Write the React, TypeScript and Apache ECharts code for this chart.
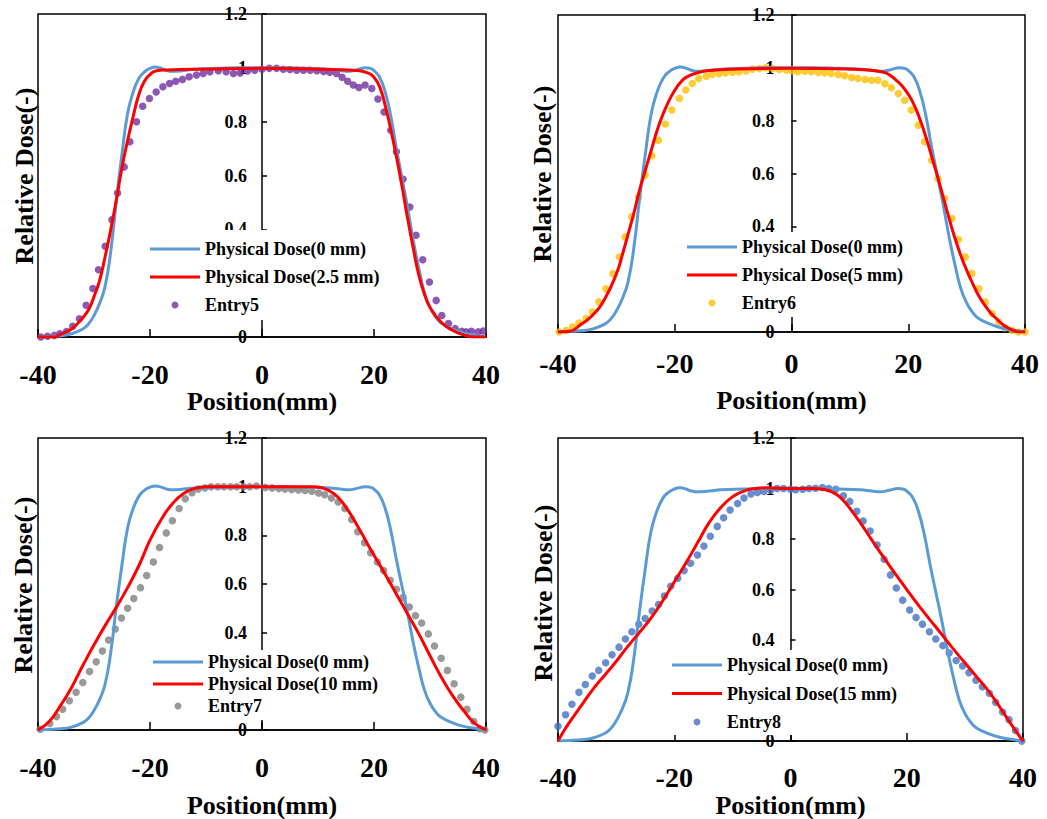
import React, { useEffect, useRef } from 'react';
import * as echarts from 'echarts';

const FONT = '"Liberation Serif", "Times New Roman", Times, serif';
const BLUE = '#5B9BD5';
const RED = '#FF0000';

// Physical Dose (0 mm) - shared reference curve
const blueX = [-40, -36, -34, -32, -31, -30, -29, -28, -27, -26, -25, -24, -23, -22, -21, -20, -19, -18, -17, -16, -14, -12, -8, -4, 0, 4, 8, 12, 14, 15.5, 17, 18.5, 19.5, 20, 21, 22, 23, 24, 25, 26, 27, 28, 29, 30, 31, 32, 34, 36, 38, 40];
const blueY = [0, 0.005, 0.012, 0.03, 0.048, 0.08, 0.125, 0.19, 0.32, 0.51, 0.68, 0.83, 0.91, 0.96, 0.985, 0.998, 1.003, 0.998, 0.99, 0.987, 0.99, 0.995, 0.998, 1, 1, 1, 0.998, 0.995, 0.99, 0.987, 0.993, 1.0, 0.997, 0.99, 0.965, 0.91, 0.82, 0.7, 0.59, 0.48, 0.36, 0.255, 0.165, 0.11, 0.075, 0.052, 0.03, 0.015, 0.007, 0];

// Panel 1
const red1X = [-40, -37, -36, -34, -32.5, -31, -30, -29, -28, -27, -26, -25, -24, -23, -22, -21, -20, -19, -17, -10, 0, 10, 17, 19, 20, 21, 22, 23, 24, 25, 26, 27, 28, 29, 30, 32, 34, 36, 38, 40];
const red1Y = [0, 0, 0.01, 0.03, 0.06, 0.1, 0.15, 0.21, 0.3, 0.4, 0.51, 0.63, 0.73, 0.82, 0.9, 0.95, 0.975, 0.988, 0.992, 0.995, 0.998, 0.995, 0.99, 0.98, 0.965, 0.93, 0.86, 0.77, 0.67, 0.56, 0.44, 0.33, 0.23, 0.16, 0.11, 0.055, 0.025, 0.008, 0, 0];
const entry5X = [-39.5, -38.3, -37.1, -36.1, -34.9, -33.8, -32.6, -31.4, -30.2, -29.2, -28.0, -26.8, -25.8, -24.6, -23.6, -22.4, -21.3, -20.1, -18.9, -17.7, -16.5, -15.4, -14.2, -13.0, -11.7, -10.5, -9.3, -7.8, -6.4, -5.1, -3.9, -2.6, -1.3, 0, 1.3, 2.6, 3.8, 5.0, 6.2, 7.4, 8.6, 9.8, 11.0, 12.1, 13.3, 14.3, 15.3, 16.3, 17.3, 18.4, 19.6, 20.7, 21.8, 23.0, 24.0, 25.2, 26.4, 27.5, 28.7, 29.9, 31.1, 32.1, 33.3, 34.5, 35.7, 36.5, 37.4, 38.6, 39.5];
const entry5Y = [0, 0.003, 0.006, 0.012, 0.02, 0.04, 0.068, 0.118, 0.18, 0.25, 0.337, 0.436, 0.535, 0.632, 0.725, 0.8, 0.857, 0.886, 0.91, 0.93, 0.942, 0.95, 0.957, 0.967, 0.973, 0.979, 0.985, 0.989, 0.985, 0.979, 0.981, 0.988, 0.991, 0.995, 0.998, 0.998, 0.995, 0.994, 0.991, 0.991, 0.991, 0.989, 0.986, 0.984, 0.979, 0.965, 0.95, 0.936, 0.927, 0.936, 0.923, 0.884, 0.836, 0.768, 0.688, 0.586, 0.483, 0.378, 0.287, 0.204, 0.136, 0.08, 0.05, 0.031, 0.021, 0.019, 0.021, 0.019, 0.022];

// Panel 2
const red2X = [-40, -38, -36, -34, -32, -30, -29, -28, -27, -26, -25, -24, -23, -22, -21, -20, -19, -18, -16, -14, -10, 0, 10, 14, 16, 17, 18, 19, 20, 21, 22, 23, 24, 25, 26, 27, 28, 29, 30, 31, 32, 33, 34, 35, 36, 37, 38, 39, 40];
const red2Y = [0, 0.003, 0.03, 0.065, 0.125, 0.22, 0.29, 0.37, 0.45, 0.54, 0.615, 0.69, 0.765, 0.825, 0.875, 0.915, 0.945, 0.965, 0.982, 0.99, 0.995, 0.998, 0.995, 0.99, 0.982, 0.97, 0.952, 0.93, 0.9, 0.86, 0.805, 0.74, 0.665, 0.59, 0.51, 0.43, 0.355, 0.29, 0.234, 0.185, 0.14, 0.105, 0.075, 0.053, 0.032, 0.017, 0.006, 0, 0];
const entry6X = [-39.8, -38.6, -37.5, -36.4, -35.2, -34.1, -33.0, -31.8, -30.6, -29.5, -28.5, -27.4, -26.2, -25.1, -23.9, -22.8, -21.6, -20.5, -19.2, -18.1, -17.0, -15.9, -14.6, -13.6, -12.4, -11.3, -10.1, -9.0, -7.8, -6.7, -5.5, -4.4, -3.2, -2.1, -0.9, 0.1, 1.1, 2.3, 3.4, 4.6, 5.7, 6.8, 8.0, 9.1, 10.3, 11.4, 12.6, 13.7, 14.8, 16.0, 17.1, 18.3, 19.4, 20.5, 21.7, 22.8, 24.0, 25.1, 26.2, 27.5, 28.6, 29.8, 30.9, 32.1, 33.2, 34.4, 35.5, 36.6, 37.8, 38.9, 40.0];
const entry6Y = [0, 0.006, 0.019, 0.034, 0.051, 0.076, 0.114, 0.164, 0.221, 0.284, 0.36, 0.436, 0.511, 0.593, 0.667, 0.726, 0.787, 0.84, 0.884, 0.916, 0.941, 0.96, 0.968, 0.975, 0.978, 0.981, 0.983, 0.985, 0.988, 0.995, 0.997, 1.0, 0.997, 0.994, 0.992, 0.989, 0.985, 0.987, 0.985, 0.982, 0.981, 0.979, 0.975, 0.97, 0.963, 0.96, 0.956, 0.953, 0.953, 0.94, 0.925, 0.903, 0.877, 0.84, 0.783, 0.72, 0.65, 0.58, 0.505, 0.43, 0.35, 0.284, 0.221, 0.164, 0.114, 0.069, 0.038, 0.016, 0.006, 0, 0];

// Panel 3
const red3X = [-40, -38, -36, -34, -32, -30, -28, -26, -24, -22, -20, -18, -16, -14, -12, -10, -5, 0, 5, 9, 10, 11, 12, 13, 14, 15, 16, 17, 18, 19, 20, 22, 24, 26, 28, 30, 32, 34, 36, 38, 40];
const red3Y = [0, 0.035, 0.1, 0.175, 0.265, 0.35, 0.43, 0.505, 0.585, 0.675, 0.78, 0.865, 0.93, 0.972, 0.993, 1.0, 1.0, 1.0, 1.0, 1.0, 0.998, 0.993, 0.983, 0.968, 0.945, 0.915, 0.88, 0.84, 0.8, 0.758, 0.718, 0.64, 0.558, 0.477, 0.395, 0.305, 0.218, 0.142, 0.08, 0.027, 0];
const entry7X = [-39.6, -37.9, -36.7, -35.6, -34.4, -33.2, -32.0, -30.8, -29.6, -28.5, -27.4, -26.2, -25.1, -24.0, -22.9, -21.7, -20.6, -19.4, -18.3, -17.1, -16.0, -14.8, -13.7, -12.5, -11.4, -10.2, -9.1, -7.9, -6.8, -5.6, -4.5, -3.3, -2.2, -1.0, 0.6, 1.8, 3.0, 4.1, 5.3, 6.5, 7.7, 8.9, 10.1, 11.2, 12.4, 13.6, 14.8, 16.0, 17.1, 18.3, 19.4, 20.6, 21.7, 22.9, 24.0, 25.2, 26.3, 27.4, 28.5, 29.7, 30.8, 32.0, 33.1, 34.3, 35.5, 36.6, 37.8, 38.9, 39.8];
const entry7Y = [0.003, 0.027, 0.055, 0.085, 0.12, 0.155, 0.195, 0.24, 0.28, 0.325, 0.37, 0.415, 0.46, 0.5, 0.54, 0.585, 0.635, 0.69, 0.75, 0.81, 0.86, 0.91, 0.95, 0.975, 0.99, 0.995, 1.0, 1.0, 1.0, 1.0, 1.0, 1.0, 1.0, 1.003, 0.997, 0.995, 0.992, 0.99, 0.988, 0.986, 0.984, 0.981, 0.974, 0.967, 0.953, 0.937, 0.91, 0.865, 0.815, 0.77, 0.728, 0.69, 0.655, 0.615, 0.578, 0.545, 0.505, 0.47, 0.44, 0.395, 0.345, 0.295, 0.245, 0.19, 0.135, 0.085, 0.035, 0.005, 0];

// Panel 4
const red4X = [-40, -39, -38, -36, -34, -32, -30, -28, -26, -24, -22, -20, -18, -16, -14, -12, -10, -8, -6, -4, 0, 4, 6, 7, 8, 9, 10, 12, 14, 16, 18, 20, 22, 24, 26, 28, 30, 32, 34, 36, 38, 40];
const red4Y = [0, 0.04, 0.075, 0.14, 0.205, 0.26, 0.315, 0.375, 0.43, 0.487, 0.555, 0.63, 0.705, 0.785, 0.865, 0.925, 0.967, 0.99, 1.0, 1.003, 1.0, 1.0, 0.995, 0.988, 0.975, 0.955, 0.928, 0.865, 0.796, 0.728, 0.663, 0.6, 0.538, 0.48, 0.423, 0.365, 0.31, 0.255, 0.2, 0.135, 0.065, 0];
const entry8X = [-40, -38.7, -37.6, -36.4, -35.3, -34.1, -33.0, -31.8, -30.7, -29.5, -28.4, -27.3, -26.1, -25.0, -23.8, -22.7, -21.7, -20.6, -19.4, -18.3, -17.2, -16.0, -14.9, -13.8, -12.6, -11.5, -10.4, -9.1, -8.0, -6.8, -5.7, -4.6, -3.4, -2.3, -1.2, 0.0, 0.9, 2.1, 3.2, 4.3, 5.5, 6.6, 7.8, 9.1, 10.2, 11.4, 12.5, 13.7, 14.9, 16.1, 17.2, 18.2, 19.3, 20.5, 21.6, 22.7, 23.9, 25.0, 26.2, 27.3, 28.5, 29.6, 30.7, 31.9, 33.0, 34.2, 35.3, 36.5, 37.6, 38.7, 39.8];
const entry8Y = [0.059, 0.104, 0.146, 0.193, 0.224, 0.258, 0.28, 0.31, 0.342, 0.372, 0.404, 0.433, 0.463, 0.485, 0.515, 0.541, 0.574, 0.613, 0.645, 0.675, 0.704, 0.737, 0.772, 0.811, 0.85, 0.884, 0.915, 0.941, 0.962, 0.978, 0.984, 0.988, 0.993, 1.0, 1.0, 0.997, 0.995, 0.997, 1.0, 1.001, 1.004, 1.0, 0.997, 0.971, 0.949, 0.91, 0.871, 0.832, 0.776, 0.72, 0.658, 0.606, 0.558, 0.519, 0.489, 0.463, 0.433, 0.404, 0.378, 0.349, 0.319, 0.297, 0.271, 0.241, 0.215, 0.189, 0.154, 0.115, 0.085, 0.042, 0];

const xTicks = { min: -40, max: 40, interval: 20 };
const yTicks = { min: 0, max: 1.2, interval: 0.2 };
// tick value that the legend box hides in the reference
const hiddenYLabel = 0.2;
const blueName = 'Physical Dose(0 mm)';

const zip = (xs: number[], ys: number[]) => xs.map((x, i) => [x, ys[i]]);

const panels = [
  { grid: { left: 38, top: 14, width: 448, height: 323 }, xm: 23, ng: 48, ym: 15, yName: [24, 176],
    lg: { left: 142, top: 230, gap: 10, pad: [10, 8, 6, 8] },
    redName: 'Physical Dose(2.5 mm)', red: zip(red1X, red1Y), dotName: 'Entry5', dots: zip(entry5X, entry5Y), dotColor: '#7030A0' },
  { grid: { left: 558, top: 15, width: 467, height: 317 }, xm: 17, ng: 55, ym: 17, yName: [542, 174],
    lg: { left: 679, top: 232, gap: 10, pad: [6, 8, 5, 8] },
    redName: 'Physical Dose(5 mm)', red: zip(red2X, red2Y), dotName: 'Entry6', dots: zip(entry6X, entry6Y), dotColor: '#FFC000' },
  { grid: { left: 38, top: 438, width: 448, height: 292 }, xm: 23, ng: 62, ym: 15, yName: [23, 585],
    lg: { left: 145, top: 650, gap: 4, pad: [3, 8, 5, 8] },
    redName: 'Physical Dose(10 mm)', red: zip(red3X, red3Y), dotName: 'Entry7', dots: zip(entry7X, entry7Y), dotColor: '#7F7F7F' },
  { grid: { left: 558, top: 438, width: 465, height: 309 }, xm: 22, ng: 37, ym: 16, yName: [543, 593],
    lg: { left: 664, top: 650, gap: 10.5, pad: [6, 8, 4, 8] },
    redName: 'Physical Dose(15 mm)', red: zip(red4X, red4Y), dotName: 'Entry8', dots: zip(entry8X, entry8Y), dotColor: '#4472C4' },
];

const LINE_ICON = 'path://M0,0L50,0L50,3L0,3Z';

function buildOption() {
  const blue = zip(blueX, blueY);
  const bold = { fontFamily: FONT, fontWeight: 'bold' as const, color: '#000' };
  return {
    animation: false,
    backgroundColor: '#fff',
    grid: panels.map((p) => ({ ...p.grid, show: true, borderColor: '#000', borderWidth: 1.5, backgroundColor: 'transparent', containLabel: false })),
    xAxis: panels.map((p, i) => ({
      type: 'value', gridIndex: i, ...xTicks,
      name: 'Position(mm)', nameLocation: 'middle', nameGap: p.ng,
      nameTextStyle: { ...bold, fontSize: 26 },
      axisLine: { show: true, onZero: false, lineStyle: { color: '#000', width: 1.5 } },
      axisTick: { show: true, inside: true, length: 8, lineStyle: { color: '#000', width: 1.5 } },
      axisLabel: { ...bold, fontSize: 28, margin: p.xm },
      splitLine: { show: false },
    })),
    yAxis: panels.map((p, i) => ({
      type: 'value', gridIndex: i, ...yTicks, position: 'left', offset: -p.grid.width / 2,
      axisLine: { show: true, onZero: false, lineStyle: { color: '#000', width: 1.5 } },
      axisTick: { show: true, inside: true, length: 5, lineStyle: { color: '#000', width: 1.5 } },
      axisLabel: {
        ...bold, fontSize: 18, margin: p.ym,
        formatter: (v: number) => (Math.abs(v - hiddenYLabel) < 1e-6 ? '' : String(Number(v.toFixed(1)))),
      },
      splitLine: { show: false },
    })),
    legend: panels.map((p) => ({
      orient: 'vertical', left: p.lg.left, top: p.lg.top, itemWidth: 50, itemHeight: 7, itemGap: p.lg.gap,
      padding: p.lg.pad, backgroundColor: '#fff', selectedMode: false,
      textStyle: { ...bold, fontSize: 18 },
      data: [
        { name: blueName, icon: LINE_ICON, itemStyle: { color: BLUE, borderWidth: 0 } },
        { name: p.redName, icon: LINE_ICON, itemStyle: { color: RED, borderWidth: 0 } },
        { name: p.dotName, icon: 'circle', itemStyle: { color: p.dotColor, borderWidth: 0 } },
      ],
    })),
    graphic: panels.map((p) => ({
      type: 'text', x: p.yName[0], y: p.yName[1], rotation: Math.PI / 2,
      style: { text: 'Relative Dose(-)', fontFamily: FONT, fontWeight: 'bold', fontSize: 26, fill: '#000', align: 'center', verticalAlign: 'middle' },
    })),
    series: panels.flatMap((p, i) => [
      { name: blueName, type: 'line', xAxisIndex: i, yAxisIndex: i, data: blue, showSymbol: false, symbol: 'none',
        smooth: 0.5, lineStyle: { color: BLUE, width: 3 }, itemStyle: { color: BLUE } },
      { name: p.redName, type: 'line', xAxisIndex: i, yAxisIndex: i, data: p.red, showSymbol: false, symbol: 'none',
        smooth: 0.5, lineStyle: { color: RED, width: 3 }, itemStyle: { color: RED } },
      { name: p.dotName, type: 'scatter', xAxisIndex: i, yAxisIndex: i, data: p.dots, symbolSize: 7.5,
        itemStyle: { color: p.dotColor } },
    ]),
  };
}

export default function App() {
  const ref = useRef<HTMLDivElement>(null);
  useEffect(() => {
    const chart = echarts.init(ref.current as HTMLDivElement, null, { renderer: 'svg' });
    chart.setOption(buildOption() as any);
    return () => chart.dispose();
  }, []);
  return <div ref={ref} style={{ position: 'fixed', left: 0, top: 0, width: 1047, height: 819, background: '#fff' }} />;
}
